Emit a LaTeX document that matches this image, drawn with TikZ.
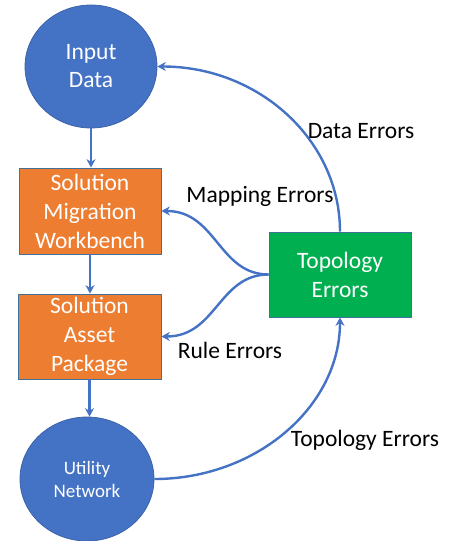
\documentclass[tikz,border=0pt]{standalone}
\usepackage{fontspec}
\setmainfont{Carlito}
\usetikzlibrary{arrows.meta,shapes.geometric}
\definecolor{oblue}{HTML}{4472C4}
\definecolor{oorange}{HTML}{ED7D31}
\definecolor{ogreen}{HTML}{00B050}
\definecolor{oline}{HTML}{41719C}
\begin{document}
\begin{tikzpicture}[x=1pt,y=-1pt,
  circ/.style={ellipse, fill=oblue, draw=oblue!85!black, line width=0.75pt, inner sep=0pt,
    text=white, align=center, font=\fontsize{23.5}{28}\selectfont},
  box/.style={rectangle, draw=oline, line width=0.75pt, inner sep=0pt,
    minimum width=142pt, minimum height=86pt,
    text=white, align=center, font=\fontsize{23.5}{29}\selectfont},
  arr/.style={draw=oblue, line width=2.4pt, -{Stealth[length=8.5pt,width=9pt]}},
  lbl/.style={text=black, font=\fontsize{23.5}{28}\selectfont, inner sep=0pt}]
\useasboundingbox (0,0) rectangle (456,541);
\node[circ, minimum width=132pt, minimum height=123pt] (in) at (91,66.5) {Input\\Data};
\node[box, fill=oorange] (smw) at (90,211) {Solution\\Migration\\Workbench};
\node[box, fill=oorange, minimum width=143pt, minimum height=85pt] (sap) at (89.5,336.5) {Solution\\Asset\\Package};
\node[circ, minimum width=134pt, minimum height=124pt, font=\fontsize{19}{23}\selectfont] (un) at (87,479) {Utility\\Network};
\node[box, fill=ogreen, minimum height=85pt] (te) at (340,274.5) {Topology\\Errors};

\draw[arr] (in.south) -- (in.south |- smw.north);
\draw[arr] (smw.south) -- (smw.south |- sap.north);
\draw[arr] (sap.south) -- (sap.south |- un.north);
\draw[arr] (te.north) .. controls +(0,-91) and +(102,0) .. (in.east);
\draw[arr] (un.east) .. controls +(102,0) and +(0,89) .. (te.south);
\draw[arr] (te.west) .. controls +(-50,0) and +(55,0) .. (smw.east);
\draw[arr] (te.west) .. controls +(-50,0) and +(55,0) .. (sap.east);

\node[lbl] (l1) at (361,131) {Data Errors};
\node[lbl] (l2) at (260,196) {Mapping Errors};
\node[lbl] (l3) at (230,350) {Rule Errors};
\node[lbl] (l4) at (365,440) {Topology Errors};
\end{tikzpicture}
\end{document}
